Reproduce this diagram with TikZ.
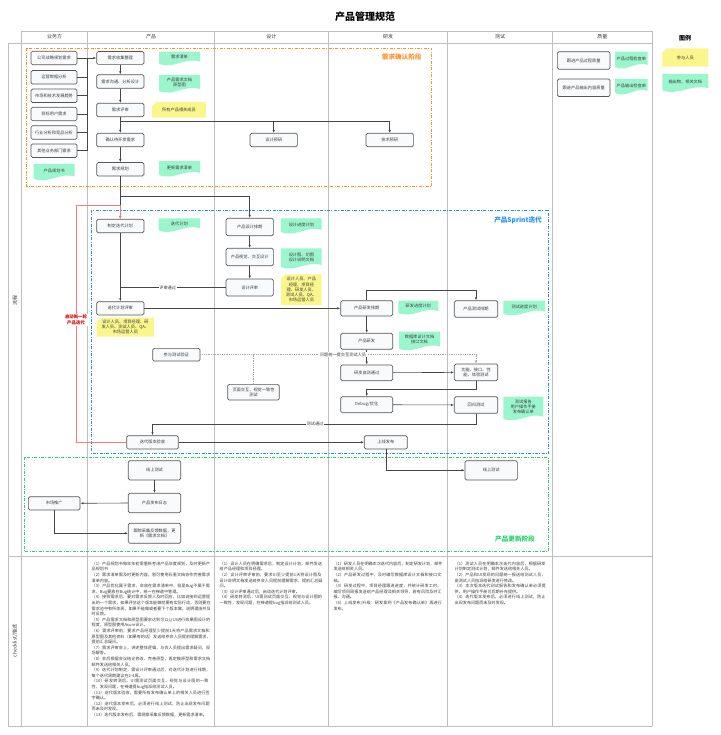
\documentclass[tikz,border=0pt]{standalone}
\usepackage{fontspec}
\setmainfont{Noto Sans CJK SC}
\usetikzlibrary{calc,arrows.meta}
\XeTeXlinebreaklocale "zh"
\XeTeXlinebreakskip = 0pt plus 1pt

\definecolor{lanegray}{RGB}{190,190,190}
\definecolor{boxline}{RGB}{85,85,85}
\definecolor{boxfill}{RGB}{248,250,252}
\definecolor{arrowc}{RGB}{70,70,70}
\definecolor{textgray}{RGB}{60,60,60}
\definecolor{docgreen}{RGB}{155,246,206}
\definecolor{noteyellow}{RGB}{250,246,140}
\definecolor{phaseorange}{RGB}{255,145,40}
\definecolor{phaseblue}{RGB}{30,144,255}
\definecolor{phasegreen}{RGB}{40,210,110}
\definecolor{restart}{RGB}{255,120,120}

% output document with wavy bottom: name, x1, y1, x2, y2, text
\newcommand{\outdoc}[6]{%
  \fill[docgreen] (#2,#3) -- (#4,#3) -- (#4,#5-5)
    .. controls ({#2+0.65*(#4-#2)},#5-10) and ({#2+0.35*(#4-#2)},#5+3) .. (#2,#5-3) -- cycle;
  \node[doctext] (#1) at ({(#2+#4)/2},{(#3+#5)/2-2}) {#6};
}
% participants note with cut corner
\newcommand{\memberbox}[6]{%
  \fill[noteyellow] (#2,#3+4) -- (#2+5,#3) -- (#4,#3) -- (#4,#5) -- (#2,#5) -- cycle;
  \node[doctext] (#1) at ({(#2+#4)/2},{(#3+#5)/2}) {#6};
}

\begin{document}
\begin{tikzpicture}[x=1pt, y=-1pt, >={Latex[length=3pt,width=2.4pt]},
  lane/.style={draw=lanegray, line width=0.8pt},
  procbox/.style={draw=boxline, fill=boxfill, rounded corners=1.5pt, line width=0.7pt,
    font=\fontsize{4.2}{5.2}\selectfont, text=textgray, align=center, inner sep=0.5pt},
  sz/.style 2 args={minimum width=#1, minimum height=#2},
  doctext/.style={font=\fontsize{4.2}{5.2}\selectfont, text=textgray, align=center, inner sep=0pt},
  flow/.style={draw=arrowc, line width=0.6pt},
  probe/.style={draw=gray!70, line width=0.6pt, dash pattern=on 1pt off 0.8pt},
  lbl/.style={font=\fontsize{4.2}{5}\selectfont, text=textgray, fill=white, inner sep=0.6pt},
  head/.style={font=\fontsize{5}{6}\selectfont, text=textgray},
  phase/.style={line width=0.8pt, dash pattern=on 3pt off 1.5pt on 0.8pt off 1.5pt},
  phaselbl/.style={font=\fontsize{6.6}{8}\selectfont\bfseries},
  notes/.style={font=\fontsize{4.1}{5.6}\selectfont, text=textgray, align=left, inner sep=0pt, anchor=north west}
]
\useasboundingbox (0,0) rectangle (720,735);

\node[font=\fontsize{10}{12}\selectfont\bfseries] (title) at (365,16.5) {产品管理规范};

% lanes
\draw[lane] (21.7,31) -- (652.3,31);
\draw[lane] (8.3,43) -- (652.3,43);
\draw[lane] (8.3,556) -- (652.3,556);
\draw[lane] (8.3,726) -- (652.3,726);
\draw[lane] (8.3,43) -- (8.3,726);
\foreach \lx in {21.7,87.7,214.3,328.3,447.7,552.3,652.3}
  \draw[lane] (\lx,31) -- (\lx,726);

\node[head] (hdbiz) at (54.7,37) {业务方};
\node[head] (hdprod) at (151,37) {产品};
\node[head] (hddesign) at (271.3,37) {设计};
\node[head] (hddev) at (388,37) {研发};
\node[head] (hdtest) at (500,37) {测试};
\node[head] (hdqa) at (602.3,37) {质量};
\node[head, rotate=90] (flowlbl) at (15,300) {流程};
\node[head, rotate=90] (chklbl) at (15,641) {checklist/描述};

% phases
\draw[phase, draw=phaseorange] (26.7,48.3) rectangle (431.7,186.7);
\draw[phase, draw=phaseblue] (91.3,210) rectangle (548.7,453.3);
\draw[phase, draw=phasegreen] (24.3,457.3) rectangle (548.3,551.7);
\node[phaselbl, text=phaseorange] (ph1) at (401.7,56.7) {需求确认阶段};
\node[phaselbl, text=phaseblue] (ph2) at (518,220) {产品Sprint迭代};
\node[phaselbl, text=phasegreen] (ph3) at (515,539.3) {产品更新阶段};

% legend
\node[font=\fontsize{6}{7}\selectfont\bfseries] (legend) at (685,38) {图例};
\memberbox{lgnote}{662.3}{48.3}{708.3}{66.7}{参与人员}
\outdoc{lgdoc}{662.3}{74}{708.3}{93.3}{输出物、相关文档}

% requirement stage
\node[procbox, sz={46}{13.5}] (b1) at (54,58) {公司战略规划需求};
\node[procbox, sz={46}{13.5}] (b2) at (54,77.3) {运营数据分析};
\node[procbox, sz={46}{13.5}] (b3) at (54,95.8) {市场和技术发展趋势};
\node[procbox, sz={46}{13.5}] (b4) at (54,114) {目标用户需求};
\node[procbox, sz={46}{13.5}] (b5) at (54,132.5) {行业分析和竞品分析};
\node[procbox, sz={46}{13.5}] (b6) at (54,150.7) {其他业务部门需求};
\outdoc{planbook}{33.7}{164}{74.7}{181.7}{产品规划书}

\node[procbox, sz={47.3}{12.8}] (p1) at (120.3,58) {需求收集整理};
\node[procbox, sz={47.3}{13.5}] (p2) at (120.3,81.5) {需求沟通、分析设计};
\node[procbox, sz={47.3}{13.4}] (p3) at (120.3,110) {需求评审};
\node[procbox, sz={47.3}{13.4}] (p4) at (120.3,140) {确认待开发需求};
\node[procbox, sz={47.3}{13.4}] (p5) at (120.3,169.3) {需求规划};
\outdoc{reqlist}{159}{51.7}{200}{66.7}{需求清单}
\outdoc{prd}{159}{75}{200}{94}{产品需求文档\\原型图}
\memberbox{reqmember}{152}{102}{206}{117.7}{所有产品相关成员}
\outdoc{reqlist2}{159}{161}{200}{178}{更新需求清单}

\node[procbox, sz={47.3}{13.4}] (d0) at (273.7,140) {设计预研};
\node[procbox, sz={47.3}{13.4}] (r0) at (389.7,140) {技术预研};

\node[procbox, sz={52.7}{17.6}] (q1) at (583.7,60.5) {跟进产品过程质量};
\node[procbox, sz={52.7}{17.6}] (q2) at (583.7,87.8) {跟进产品输出内容质量};
\outdoc{qcheck1}{615}{51.7}{647.7}{70}{产品过程检查单}
\outdoc{qcheck2}{615}{79}{647.7}{96}{产品输出检查单}

\coordinate (bus) at (87,58);
\foreach \b in {b1,b2,b3,b4,b5,b6}
  \draw[flow] (\b.east) -- (\b.east -| bus);
\draw[flow] (b6.east -| bus) -- (bus);
\draw[flow, ->] (bus) -- (p1.west);
\draw[flow, ->] (p1) -- (p2);
\draw[flow, ->] (p2) -- (p3);
\draw[flow, ->] (p3) -- (p4);
\draw[flow, ->] (p4) -- (p5);
\coordinate (fork1) at (120.3,121.7);
\draw[flow, ->] (fork1) -| (d0.north);
\draw[flow, ->] (fork1) -| (r0.north);

% sprint stage
\node[procbox, sz={47.3}{13.4}] (s1) at (120.3,226) {制定迭代计划};
\outdoc{iterplan}{158.7}{218.3}{200}{233.3}{迭代计划}
\node[procbox, sz={47.3}{17.4}] (d1) at (249.7,227) {产品设计排期};
\outdoc{designplan}{281}{218.3}{321.7}{235}{设计进度计划}
\node[procbox, sz={47.3}{17.4}] (d2) at (249.7,257) {产品视觉、交互设计};
\outdoc{designdoc}{281}{248.3}{321.7}{270}{设计图、切图\\设计说明文档}
\node[procbox, sz={47.3}{17}] (d3) at (249.7,287.5) {设计评审};
\memberbox{designmember}{281}{274.3}{321.7}{305}{设计人员、产品\\经理、项目经\\理、研发人员、\\测试人员、QA、\\市场运营人员}
\node[procbox, sz={47.3}{13.3}] (s2) at (120.3,308.3) {迭代计划评审};
\memberbox{itermember}{96.7}{317.7}{154}{336.7}{设计人员、项目经理、研\\发人员、测试人员、QA、\\市场运营人员}
\node[procbox, sz={47.3}{12.7}] (s3) at (176.3,354.7) {参与测试验证};
\node[procbox, sz={51.6}{15.7}] (d4) at (253.5,392.2) {页面交互、视觉一致性\\测试};

\node[procbox, sz={52}{15.3}] (r1) at (366.7,308.3) {产品研发排期};
\outdoc{devplan}{398.3}{300.7}{438.3}{316}{研发进度计划}
\node[procbox, sz={52}{16}] (r2) at (366.7,341.3) {产品研发};
\outdoc{devdoc}{399}{331.7}{440}{351.7}{数据库设计文档\\接口文档}
\node[procbox, sz={52}{15.7}] (r3) at (366.7,372.8) {研发自测通过};
\node[procbox, sz={52}{16}] (r4) at (366.7,404.7) {Debug/优化};

\node[procbox, sz={43.4}{16.6}] (t1) at (476,309) {产品测试排期};
\outdoc{testplan}{503.3}{300.7}{545}{316.7}{测试进度计划}
\node[procbox, sz={43.4}{16.7}] (t2) at (476,372.3) {功能、接口、性\\能、体验测试};
\node[procbox, sz={43.4}{16.6}] (t3) at (476,405) {回归测试};
\outdoc{testdoc}{503.3}{396.7}{543.3}{421.7}{测试报告\\用户操作手册\\发布确认单}

\node[procbox, sz={51.6}{13.3}] (s4) at (152.5,442.3) {迭代版本验收};
\node[procbox, sz={43}{13.3}] (r5) at (385.8,442.3) {上线发布};

\coordinate (fork2) at (120.3,196);
\coordinate (restartturn) at (76,205);
\draw[flow, ->] (p5) -- (s1);
\draw[flow, ->] (fork2) -| (d1.north);
\draw[flow, ->] (d1) -- (d2);
\draw[flow, ->] (d2) -- (d3);
\draw[flow] (d3.west) -- (d3.west -| s1) node[lbl, pos=0.55] (passdesign) {评审通过};
\draw[flow, ->] (s1) -- (s2);
\draw[flow, ->] (s2.east) -- (r1.west);
\draw[flow, ->] (r1.north) -- ++(0,-9.6) -| (t1.north);
\draw[flow, ->] (r1) -- (r2);
\draw[flow, ->] (r2) -- (r3);
\draw[flow, ->] (r3) -- (t2);
\draw[flow, ->] (t2.south) -- ++(0,8) -| (r4.north);
\draw[flow, ->] (r4) -- (t3);
\coordinate (passturn) at ($(t3.south)+(0,11)$);
\draw[flow, ->] (t3.south) -- (passturn) -| (s4.north);
\node[lbl] (passtest) at (315,424.3) {测试通过};
\draw[flow, ->] (s4.east) -- (r5.west);
\draw[probe, ->] (s3.east) -| (t2.north);
\draw[probe] (d4.north) -- (d4.north |- s3.east);
\node[lbl] (feedback) at (343,354.7) {问题统一提交至测试人员};
\draw[draw=restart, line width=0.9pt, ->] (s4.west) -| (restartturn) -| (s1.north);
\node[font=\fontsize{4.4}{5.6}\selectfont\bfseries, text=red!85!black, fill=white, align=center, inner sep=0.6pt] (restartlbl) at (76,320) {启动新一轮\\产品迭代};

% update stage
\node[procbox, sz={52.4}{19.3}] (u1) at (154.5,470.3) {线上测试};
\node[procbox, sz={52.4}{19.4}] (u2) at (154.5,503) {产品发布日志};
\node[procbox, sz={52.4}{20}] (u3) at (154.5,533.3) {跟踪采集反馈数据，更\\新《需求文档》};
\node[procbox, sz={51.7}{13.3}] (m1) at (54.2,503.3) {市场推广};
\node[procbox, sz={52.3}{19.3}] (t4) at (491.2,470.3) {线上测试};
\draw[flow, ->] (u1) -- (u2);
\draw[flow, ->] (u2.west) -- (m1.east);
\draw[flow, ->] (m1.south) |- (u3.west);
\draw[flow, ->] (r5.south) |- (t4.west);

% checklist
\node[notes, text width=119pt] (chkprod) at (91.5,561.5) {%
（1）产品规划书每年年初需重新考虑产品年度规划，及时更新产品规划书\\
（2）需求清单需及时更新内容，暂可使用石墨文档协作完善需求清单内容。\\
（3）产品优化属于需求，会放在需求清单中，但是Bug不属于需求，Bug要放在Bug统计中，统一在禅道中管理。\\
（4）接到需求后，要对需求反馈人及时回应，比如说接到运营提出的一个需求，如果评估这个版本能做就要有实际行动，否则要在需求池中有所体现，如果不能做或者要下个版本做，说明理由并及时反馈。\\
（5）产品需求文档和原型图要求达到可以让UI进行效果图设计的程度，原型图使用Axure设计。\\
（6）需求评审前，要求产品经理至少提前1天将产品需求文档和原型图及其他资料（如果有的话）发送给参会人员提前理解需求，提前汇总疑问。\\
（7）需求评审会上，讲述整体逻辑，与会人员提出需求疑问，现场解答。\\
（8）会后根据会议结论修改、完善原型，再定稿原型和需求文档邮件发送给相关人员。\\
（9）迭代计划制定，需设计评审通过后，对迭代计划进行排期，每个迭代周期建议在2-4周。\\
（10）研发转测后，UI需测试页面交互、视觉与设计图的一致性，发现问题，在禅道提bug指派给测试人员。\\
（11）迭代版本验收，需要所有发布确认单上的相关人员进行签字确认。\\
（12）迭代版本发布后，必须进行线上测试，防止出现发布问题而未及时发现。\\
（13）迭代版本发布后，需观察采集反馈数据，更新需求清单。};
\node[notes, text width=103pt] (chkdesign) at (219.5,561.5) {%
（1）设计人员在明确需求后，制定设计计划，邮件发送给产品经理和项目经理。\\
（2）设计评审评审前，要求UI至少提前1天将设计图及设计说明文档发送给参会人员提前理解需求，提前汇总疑问。\\
（3）设计评审通过后，启动迭代计划评审。\\
（4）研发转测后，UI需测试页面交互、视觉与设计图的一致性，发现问题，在禅道提bug指派给测试人员。};
\node[notes, text width=109pt] (chkdev) at (333.3,561.5) {%
（1）研发人员在明确本次迭代内容后，制定研发计划，邮件发送给相关人员。\\
（2）产品研发过程中，及时编写数据库设计文档和接口文档。\\
（3）研发过程中，项目经理跟进进度，并统计研发工时，编写项目周报发送给产品经理及相关领导，若有风险及时汇报、沟通。\\
（4）上线发布/升级：研发拿到《产品发布确认单》再进行发布。};
\node[notes, text width=92pt] (chktest) at (454.5,561.5) {%
（1）测试人员在明确本次迭代内容后，根据研发计划制定测试计划，邮件发送给相关人员。\\
（2）产品和UI发现的问题统一报送给测试人员，由测试人员指派给研发进行修改。\\
（3）本次版本迭代测试报告和发布确认单必须提供，用户操作手册可后期补充提供。\\
（4）迭代版本发布后，必须进行线上测试，防止出现发布问题而未及时发现。};

\end{tikzpicture}
\end{document}
